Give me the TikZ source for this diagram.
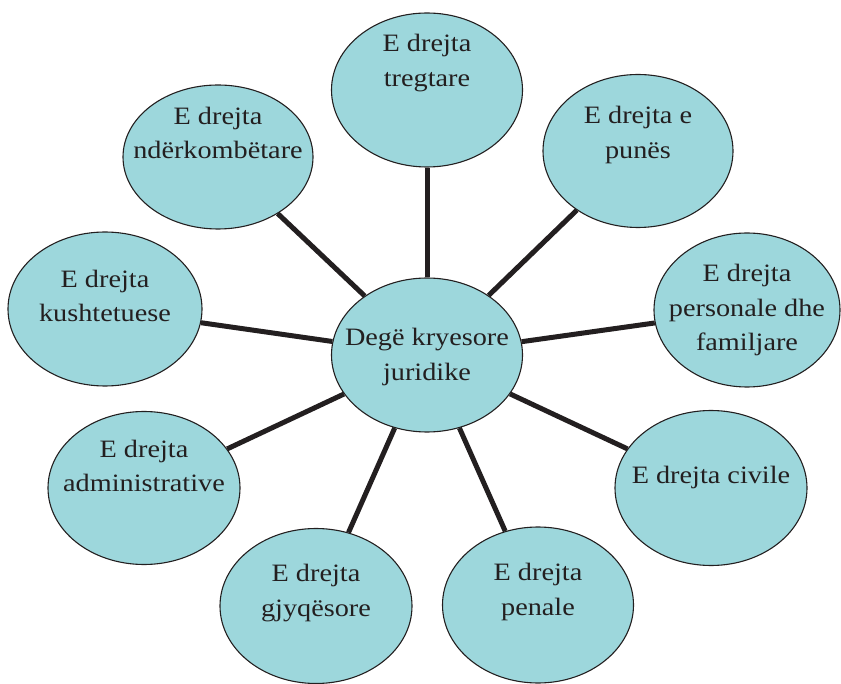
\documentclass[tikz,border=0pt]{standalone}
\usepackage{fontspec}
\setmainfont{Liberation Serif}[FakeStretch=1.13]
\usetikzlibrary{shapes.geometric}
\definecolor{bubble}{RGB}{157,215,220}
\definecolor{ink}{RGB}{35,31,32}
\tikzset{
  bubble/.style={ellipse, draw=ink, line width=1.1pt, fill=bubble, inner sep=0pt},
  caption/.style={align=center, text=ink, font=\fontsize{25}{34.5}\selectfont, inner sep=0pt},
  spoke/.style={draw=ink, line width=5pt}
}
\begin{document}
\begin{tikzpicture}[x=1pt,y=-1pt]
\useasboundingbox (0,0) rectangle (841,684);

% hub and the nine branches
\node[bubble, minimum width=191pt, minimum height=154pt] (hub) at (427,355) {};
\node[bubble, minimum width=191pt, minimum height=154pt] (treg) at (427,90) {};
\node[bubble, minimum width=190pt, minimum height=153pt] (pune) at (638,151) {};
\node[bubble, minimum width=186pt, minimum height=154pt] (pers) at (747,310) {};
\node[bubble, minimum width=192pt, minimum height=155pt] (civ) at (711,488) {};
\node[bubble, minimum width=191pt, minimum height=156pt] (pen) at (538,605) {};
\node[bubble, minimum width=192pt, minimum height=155pt] (gjyq) at (316,606) {};
\node[bubble, minimum width=192pt, minimum height=153pt] (adm) at (144,488) {};
\node[bubble, minimum width=194pt, minimum height=154pt] (kush) at (105,309) {};
\node[bubble, minimum width=190pt, minimum height=144pt] (nder) at (218,157) {};

% spokes from the hub to each branch
\foreach \b in {treg,pune,pers,civ,pen,gjyq,adm,kush,nder}
  \path[spoke] (hub) -- (\b);

% captions
\node[caption] (hubT) at ([yshift=-2pt]hub.center) {Degë kryesore\\juridike};
\node[caption] (tregT) at ([yshift=27pt]treg.center) {E drejta\\tregtare};
\node[caption] (puneT) at ([yshift=16pt]pune.center) {E drejta e\\punës};
\node[caption] (persT) at ([yshift=0pt]pers.center) {E drejta\\personale dhe\\familjare};
\node[caption] (civT) at ([yshift=11pt]civ.center) {E drejta civile};
\node[caption] (penT) at ([yshift=13pt]pen.center) {E drejta\\penale};
\node[caption] (gjyqT) at ([yshift=13pt]gjyq.center) {E drejta\\gjyqësore};
\node[caption] (admT) at ([yshift=22pt]adm.center) {E drejta\\administrative};
\node[caption] (kushT) at ([yshift=13pt]kush.center) {E drejta\\kushtetuese};
\node[caption] (nderT) at ([yshift=24pt]nder.center) {E drejta\\ndërkombëtare};
\end{tikzpicture}
\end{document}
